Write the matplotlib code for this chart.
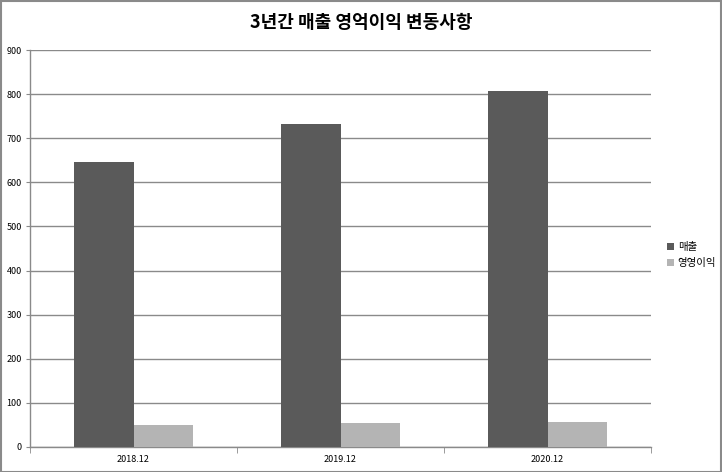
import matplotlib
matplotlib.use('Agg')
import matplotlib.pyplot as plt
from matplotlib.patches import Rectangle
import numpy as np

plt.rcParams['font.family'] = ['Noto Sans CJK KR', 'DejaVu Sans']

categories = ['2018.12', '2019.12', '2020.12']
sales = [646, 733, 806]
op_profit = [50, 55, 57]
series_names = ['매출', '영영이익']
y_ticks = [0, 100, 200, 300, 400, 500, 600, 700, 800, 900]

fig = plt.figure(figsize=(7.22, 4.72), dpi=100)
ax = fig.add_axes([30/722, 25/472, 621/722, 397/472])

x = np.arange(len(categories))
w = 1 / 3.5                                                    # gap 150% kao u Excelu
ax.bar(x - w/2, sales, w, color='#5a5a5a', label=series_names[0], zorder=3)
ax.bar(x + w/2, op_profit, w, color='#b4b4b4', label=series_names[1], zorder=3)

ax.set_xlim(-0.5, len(categories) - 0.5)
ax.set_ylim(0, 900)
ax.set_yticks(y_ticks)
ax.set_yticklabels([str(v) for v in y_ticks], fontsize=6.5)
ax.yaxis.grid(True, color='#8a8a8a', linewidth=1.0, zorder=0)

ax.set_xticks(x)
ax.set_xticklabels(categories, fontsize=6.5)
ax.tick_params(axis='x', length=0, pad=6)
ax.set_xticks(np.arange(len(categories) + 1) - 0.5, minor=True)
ax.tick_params(axis='x', which='minor', length=4, color='#8a8a8a')
ax.tick_params(axis='y', length=3, color='#8a8a8a', pad=3)

for side in ['top', 'right']:
    ax.spines[side].set_visible(False)
for side in ['left', 'bottom']:
    ax.spines[side].set_color('#8a8a8a')
    ax.spines[side].set_linewidth(1.0)

fig.text(361/722, 1 - 22/472, '3년간 매출 영억이익 변동사항', ha='center', va='center',
         fontsize=13, fontweight='bold')

fig.legend(loc='center left', bbox_to_anchor=(658/722, 1 - 255/472), frameon=False,
           fontsize=7.5, handlelength=0.6, handleheight=0.6, handletextpad=0.4, labelspacing=0.6)

fig.patches.append(Rectangle((0.001, 0.001), 0.997, 0.997, transform=fig.transFigure,
                             fill=False, edgecolor='#8a8a8a', linewidth=1.5))

fig.savefig('out.png', dpi=100)
